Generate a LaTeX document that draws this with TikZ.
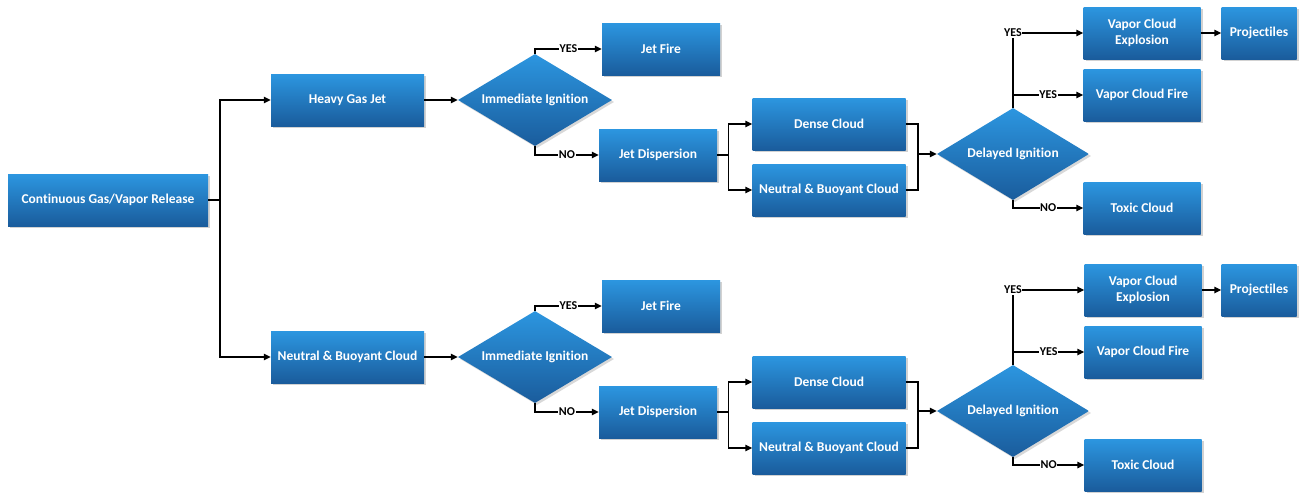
\documentclass[tikz,border=0pt]{standalone}
\usepackage{fontspec}
\setmainfont{Carlito}[Ligatures=CommonOff]
\usetikzlibrary{shapes.geometric,arrows.meta,shadows,calc}
\definecolor{btop}{HTML}{2C96E0}
\definecolor{bbot}{HTML}{1A5C9C}
\begin{document}
\begin{tikzpicture}[x=1pt,y=-1pt,
  box/.style={rectangle, draw=none, top color=btop, bottom color=bbot,
    minimum height=52pt, inner sep=2pt, text=white, align=center,
    font=\bfseries\fontsize{13.5}{16}\selectfont,
    drop shadow={shadow xshift=2pt,shadow yshift=-2pt,opacity=0.35}},
  dia/.style={diamond, aspect=1.65, draw=none, top color=btop, bottom color=bbot,
    minimum width=154pt, minimum height=92pt, inner sep=0pt, text=white,
    font=\bfseries\fontsize{13.5}{16}\selectfont,
    drop shadow={shadow xshift=2pt,shadow yshift=-2pt,opacity=0.3}},
  ln/.style={draw=black, line width=1.4pt},
  arr/.style={-{Triangle[length=7pt,width=6.5pt]}},
  lbl/.style={fill=white, inner sep=0.6pt, text=black, font=\bfseries\fontsize{12}{13}\selectfont}
]
\useasboundingbox (0,0) rectangle (1305,493);
\fill[white] (0,0) rectangle (1305,493);

% root
\node[box, minimum width=200pt] (cont) at (108,200) {Continuous Gas/Vapor Release};
\coordinate (j0) at (220,200);

% ---------- top branch ----------
\node[box, minimum width=153pt] (hgj) at (347.5,100) {Heavy Gas Jet};
\node[dia] (ii1) at (535,100) {Immediate Ignition};
\node[box, minimum width=118pt] (jf1) at (661,49) {Jet Fire};
\node[box, minimum width=118pt] (jd1) at (658,155) {Jet Dispersion};
\node[box, minimum width=153pt] (dc1) at (829,124) {Dense Cloud};
\node[box, minimum width=153pt] (nb1) at (829,190) {Neutral \& Buoyant Cloud};
\node[dia, minimum width=152pt] (di1) at (1013,154) {Delayed Ignition};
\node[box, minimum width=117pt] (vce1) at (1142,33) {Vapor Cloud\\Explosion};
\node[box, minimum width=75pt] (pr1) at (1259,33) {Projectiles};
\node[box, minimum width=117pt] (vcf1) at (1142,95) {Vapor Cloud Fire};
\node[box, minimum width=117pt] (tc1) at (1142,208) {Toxic Cloud};
\coordinate (s1) at ($(jd1.east)+(11,0)$);
\coordinate (m1) at ($(di1.west)+(-19,0)$);

% ---------- bottom branch ----------
\node[box, minimum width=153pt] (nbc) at (347.5,357) {Neutral \& Buoyant Cloud};
\node[dia] (ii2) at (535,357) {Immediate Ignition};
\node[box, minimum width=118pt] (jf2) at (661,306) {Jet Fire};
\node[box, minimum width=118pt] (jd2) at (658,412) {Jet Dispersion};
\node[box, minimum width=153pt] (dc2) at (829,382) {Dense Cloud};
\node[box, minimum width=153pt] (nb2) at (829,448) {Neutral \& Buoyant Cloud};
\node[dia, minimum width=152pt] (di2) at (1013,411) {Delayed Ignition};
\node[box, minimum width=117pt] (vce2) at (1143,290) {Vapor Cloud\\Explosion};
\node[box, minimum width=75pt] (pr2) at (1259,290) {Projectiles};
\node[box, minimum width=117pt] (vcf2) at (1143,352) {Vapor Cloud Fire};
\node[box, minimum width=117pt] (tc2) at (1143,465) {Toxic Cloud};
\coordinate (s2) at ($(jd2.east)+(11,0)$);
\coordinate (m2) at ($(di2.west)+(-19,0)$);

% ---------- connectors ----------
\draw[ln] (cont.east) -- (j0);
\draw[ln,arr] (j0) |- (hgj.west);
\draw[ln,arr] (j0) |- (nbc.west);

% top
\draw[ln,arr] (hgj.east) -- (ii1.west);
\draw[ln,arr] (ii1.north) |- node[pos=0.75,lbl]{YES} (jf1.west);
\draw[ln,arr] (ii1.south) |- node[pos=0.75,lbl]{NO} (jd1.west);
\draw[ln] (jd1.east) -- (s1);
\draw[ln,arr] (s1) |- (dc1.west);
\draw[ln,arr] (s1) |- (nb1.west);
\draw[ln] (dc1.east) -| (m1);
\draw[ln] (nb1.east) -| (m1);
\draw[ln,arr] (m1) -- (di1.west);
\draw[ln,arr] (di1.north) |- node[pos=0.5,lbl]{YES} (vce1.west);
\draw[ln,arr] (di1.north |- vcf1.west) -- node[lbl]{YES} (vcf1.west);
\draw[ln,arr] (di1.south) |- node[pos=0.75,lbl]{NO} (tc1.west);
\draw[ln,arr] (vce1.east) -- (pr1.west);

% bottom
\draw[ln,arr] (nbc.east) -- (ii2.west);
\draw[ln,arr] (ii2.north) |- node[pos=0.75,lbl]{YES} (jf2.west);
\draw[ln,arr] (ii2.south) |- node[pos=0.75,lbl]{NO} (jd2.west);
\draw[ln] (jd2.east) -- (s2);
\draw[ln,arr] (s2) |- (dc2.west);
\draw[ln,arr] (s2) |- (nb2.west);
\draw[ln] (dc2.east) -| (m2);
\draw[ln] (nb2.east) -| (m2);
\draw[ln,arr] (m2) -- (di2.west);
\draw[ln,arr] (di2.north) |- node[pos=0.5,lbl]{YES} (vce2.west);
\draw[ln,arr] (di2.north |- vcf2.west) -- node[lbl]{YES} (vcf2.west);
\draw[ln,arr] (di2.south) |- node[pos=0.75,lbl]{NO} (tc2.west);
\draw[ln,arr] (vce2.east) -- (pr2.west);
\end{tikzpicture}
\end{document}
